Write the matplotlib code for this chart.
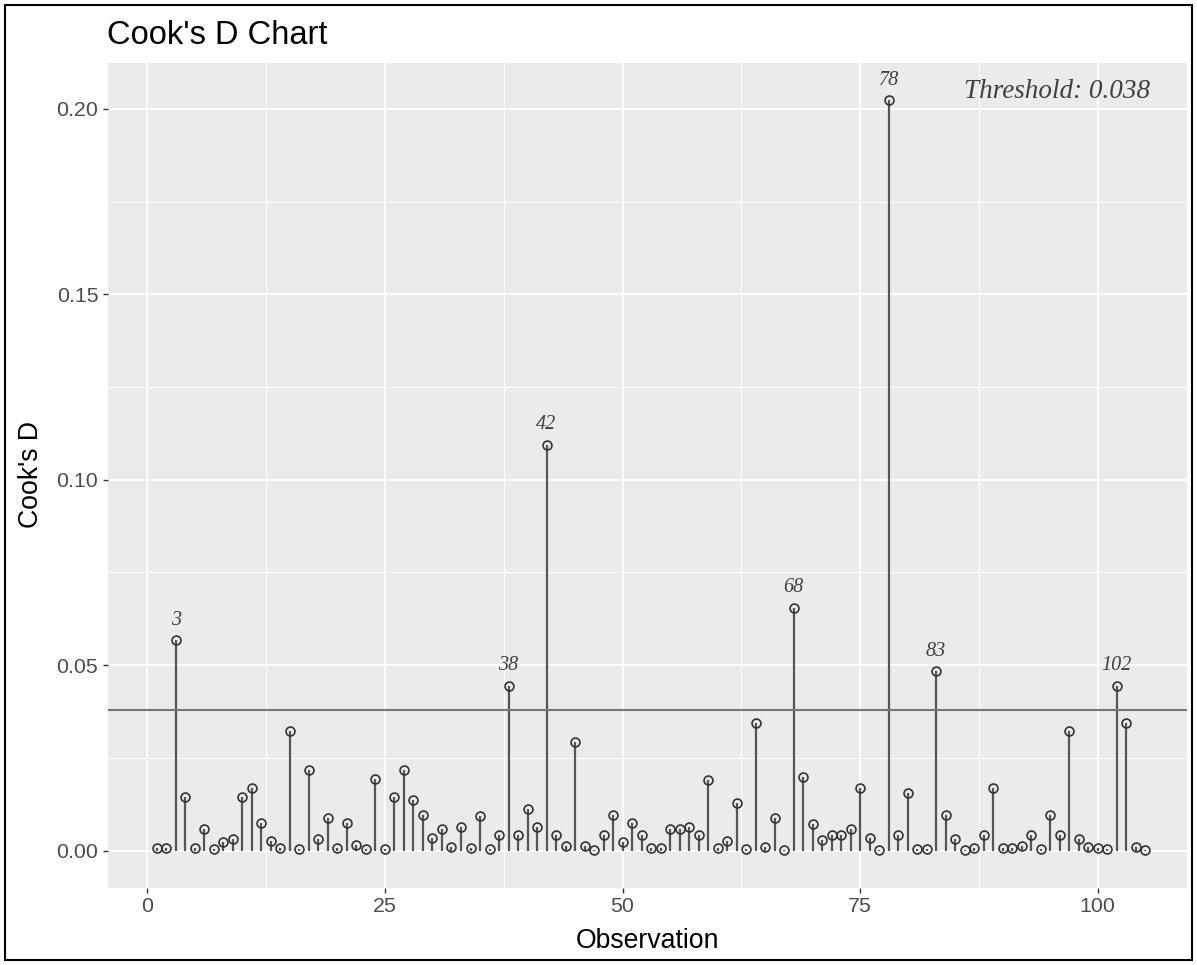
import matplotlib
matplotlib.use("Agg")
import matplotlib.pyplot as plt
from matplotlib.patches import Rectangle
from matplotlib.ticker import MultipleLocator

# ---- data ----
observations = list(range(1, 106))
cooks_d = [
    0.0007, 0.0008, 0.0567, 0.0145, 0.0006, 0.0059, 0.0004, 0.0024, 0.0032, 0.0145,
    0.0169, 0.0075, 0.0025, 0.0006, 0.0323, 0.0005, 0.0218, 0.0032, 0.0087, 0.0006,
    0.0075, 0.0015, 0.0004, 0.0193, 0.0004, 0.0145, 0.0218, 0.0137, 0.0096, 0.0033,
    0.0059, 0.0009, 0.0064, 0.0006, 0.0094, 0.0005, 0.0043, 0.0444, 0.0043, 0.0113,
    0.0064, 0.1095, 0.0043, 0.0013, 0.0294, 0.0013, 0.0002, 0.0043, 0.0095, 0.0023,
    0.0075, 0.0041, 0.0006, 0.0006, 0.0059, 0.0059, 0.0064, 0.0043, 0.0191, 0.0006,
    0.0025, 0.0128, 0.0003, 0.0344, 0.0009, 0.0089, 0.0002, 0.0655, 0.0199, 0.0072,
    0.0029, 0.0043, 0.0043, 0.0059, 0.0169, 0.0033, 0.0002, 0.2023, 0.0042, 0.0155,
    0.0004, 0.0004, 0.0484, 0.0095, 0.0030, 0.0002, 0.0006, 0.0041, 0.0169, 0.0006,
    0.0006, 0.0013, 0.0043, 0.0005, 0.0095, 0.0041, 0.0323, 0.0032, 0.0009, 0.0006,
    0.0004, 0.0444, 0.0344, 0.0009, 0.0002,
]
threshold = 0.038
x_ticks = [0, 25, 50, 75, 100]
y_ticks = [0.00, 0.05, 0.10, 0.15, 0.20]
y_tick_labels = ["0.00", "0.05", "0.10", "0.15", "0.20"]

W, H = 1197, 965
fig = plt.figure(figsize=(W / 100, H / 100), dpi=100)
fig.patch.set_facecolor("white")

left, right, top, bottom = 107.5, 1187, 63, 888
ax = fig.add_axes([left / W, 1 - bottom / H, (right - left) / W, (bottom - top) / H])
ax.set_facecolor("#EBEBEB")
for s in ax.spines.values():
    s.set_visible(False)

ax.set_xlim(-4.2, 109.4)
ax.set_ylim(-0.0101, 0.2124)

ax.set_xticks(x_ticks)
ax.set_yticks(y_ticks)
ax.set_yticklabels(y_tick_labels)
ax.xaxis.set_minor_locator(MultipleLocator(12.5))
ax.yaxis.set_minor_locator(MultipleLocator(0.025))
ax.grid(which="major", color="white", linewidth=1.5)
ax.grid(which="minor", color="white", linewidth=0.75)
ax.set_axisbelow(True)
ax.tick_params(which="major", length=3.6, width=1.0, color="#333333",
               labelsize=15.4, labelcolor="#4D4D4D", pad=3)
ax.tick_params(which="minor", length=0)
for lab in ax.get_xticklabels() + ax.get_yticklabels():
    lab.set_family("Liberation Sans")

# stems and points
ax.vlines(observations, 0, cooks_d, color="#555555", linewidth=1.6, zorder=2)
ax.plot(observations, cooks_d, linestyle="none", marker="o", markersize=6.4,
        markerfacecolor="none", markeredgecolor="#333333", markeredgewidth=1.2, zorder=3)
ax.axhline(threshold, color="#777777", linewidth=1.5, zorder=2.5)

# labels for influential observations
for o, v in zip(observations, cooks_d):
    if v > threshold:
        ax.annotate(str(o), (o, v), xytext=(0, 14.4), textcoords="offset points",
                    ha="center", va="center", fontsize=14.5, fontstyle="italic",
                    family="Liberation Serif", color="#404040", zorder=4)

ax.text(105.5, 0.2048, "Threshold: 0.038", ha="right", va="center", fontsize=19.5,
        fontstyle="italic", family="Liberation Serif", color="#404040")

# titles
fig.text(107 / W, 1 - 43.5 / H, "Cook's D Chart", ha="left", va="baseline",
         fontsize=23.5, family="Liberation Sans", color="black")
fig.text((left + right) / 2 / W, 1 - 947.5 / H, "Observation", ha="center", va="baseline",
         fontsize=19.2, family="Liberation Sans", color="black")
fig.text(31 / W, 1 - 475 / H, "Cook's D", ha="center", va="center", rotation=90,
         fontsize=19.2, family="Liberation Sans", color="black")

# outer frame
fig.patches.append(Rectangle((5 / W, 5 / H), (W - 10) / W, (H - 10) / H,
                             transform=fig.transFigure, fill=False,
                             edgecolor="black", linewidth=1.5))

fig.savefig("out.png", dpi=100)
